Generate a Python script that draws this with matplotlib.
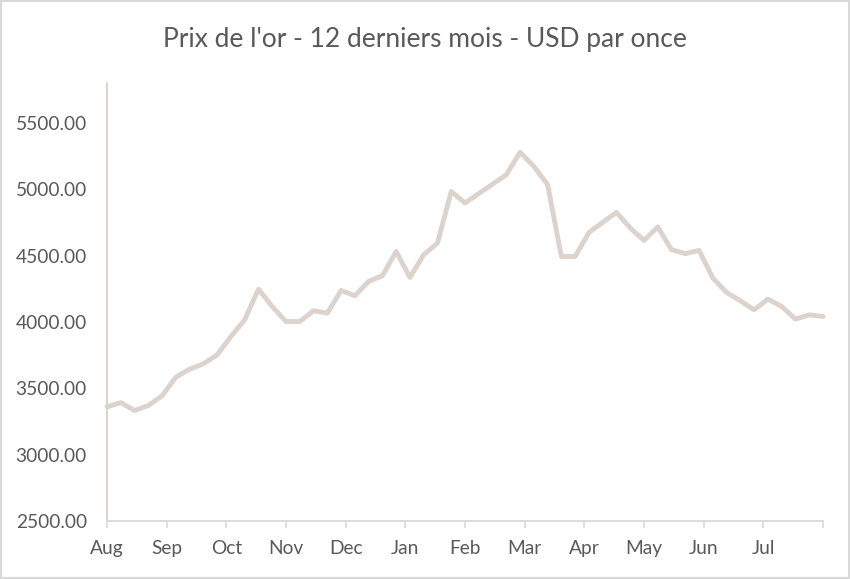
#!/usr/bin/env python3
"""Prix de l'or - 12 derniers mois"""

import numpy as np
from matplotlib import pyplot as plt
from matplotlib import patches

# weekly closes, USD per ounce
prices = [
    3360, 3392, 3332, 3370, 3443, 3584, 3644, 3684, 3752, 3890,
    4016, 4247, 4116, 4003, 4003, 4084, 4066, 4237, 4197, 4305,
    4348, 4531, 4335, 4506, 4594, 4983, 4896, 4967, 5038, 5109,
    5278, 5172, 5034, 4493, 4493, 4674, 4750, 4825, 4708, 4614,
    4715, 4544, 4514, 4539, 4330, 4222, 4159, 4091, 4172, 4116,
    4021, 4053, 4041,
]
months = ["Aug", "Sep", "Oct", "Nov", "Dec", "Jan", "Feb", "Mar",
          "Apr", "May", "Jun", "Jul", ""]
y_ticks = [2500, 3000, 3500, 4000, 4500, 5000, 5500]

LINE_COLOR = "#dcd3cc"
TEXT_COLOR = "#595959"
plt.rcParams["font.family"] = ["Lato", "DejaVu Sans"]

fig = plt.figure(figsize=(8.5, 5.79), dpi=100)
ax = fig.add_axes([107 / 850, 1 - 521 / 579, (823 - 107) / 850, (521 - 83) / 579])

x = np.arange(len(prices))
ax.plot(x, prices, color=LINE_COLOR, lw=3.5, solid_joinstyle="round",
        solid_capstyle="round", clip_on=False)

n = len(prices) - 1
ax.set_xlim(0, n)
ax.set_ylim(2500, 5800)
ax.set_xticks(np.linspace(0, n, 13))
ax.set_xticklabels(months)
ax.set_yticks(y_ticks)
ax.set_yticklabels([f"{v:.2f}" for v in y_ticks])

for side in ("top", "right"):
    ax.spines[side].set_visible(False)
ax.spines["left"].set_color("#d9d2cc")
ax.spines["left"].set_linewidth(1.3)
ax.spines["bottom"].set_color("#d9d9d9")
ax.spines["bottom"].set_linewidth(1.3)

ax.tick_params(axis="y", length=0, pad=14.5, labelsize=13.8, labelcolor=TEXT_COLOR)
ax.tick_params(axis="x", length=5, width=1.2, color="#d9d9d9", pad=9,
               labelsize=13.8, labelcolor=TEXT_COLOR)

fig.text(0.5, 1 - 39 / 579, "Prix de l'or - 12 derniers mois - USD par once",
         ha="center", va="center", fontsize=19, color=TEXT_COLOR)

# light frame around the chart area
fig.patches.append(patches.Rectangle((0.001, 0.001), 0.998, 0.997, transform=fig.transFigure,
                                     fill=False, edgecolor="#d9d9d9", lw=1.5))

fig.savefig("out.png", dpi=100)
